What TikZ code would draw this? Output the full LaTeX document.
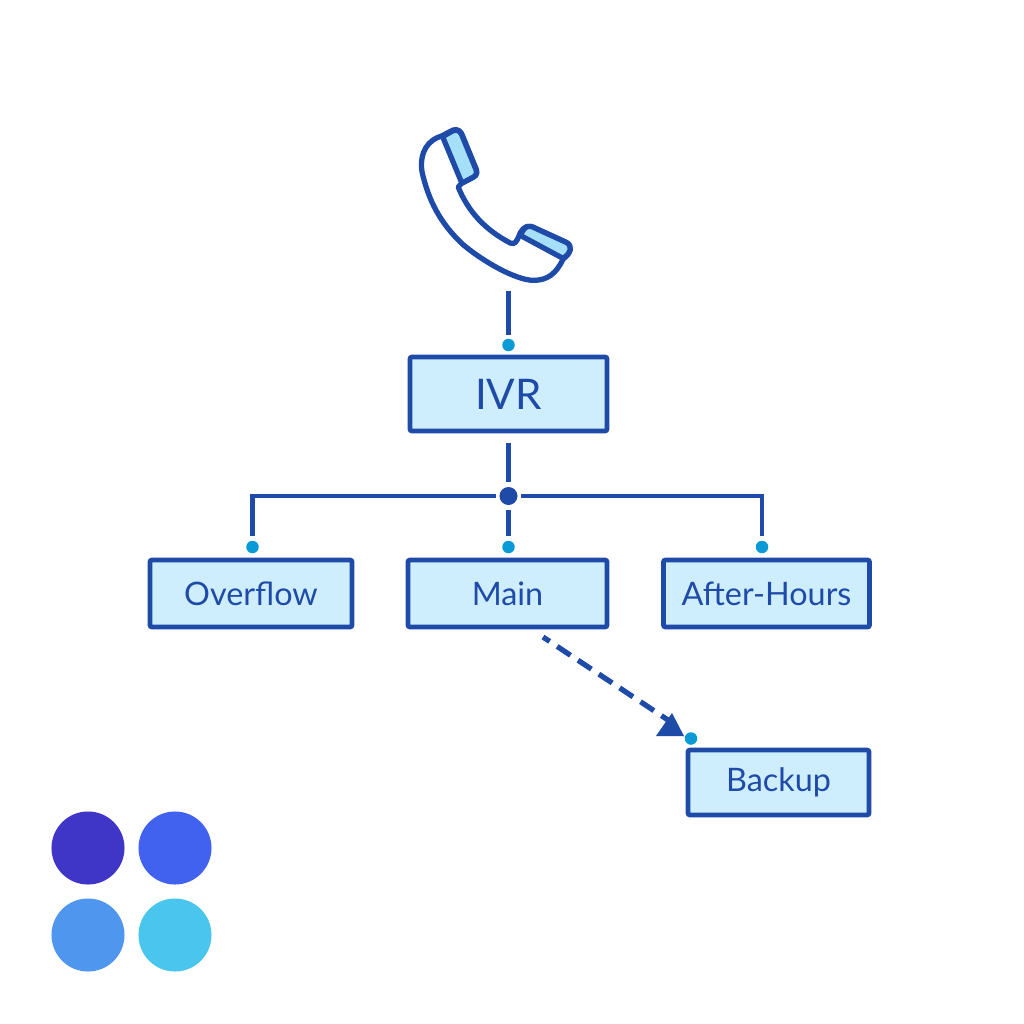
\documentclass[tikz,border=0pt]{standalone}
\usepackage{fontspec}
\setmainfont{Lato}
\usetikzlibrary{positioning}
\definecolor{linkblue}{HTML}{1F4BA8}
\definecolor{boxfill}{HTML}{CFEEFD}
\definecolor{portblue}{HTML}{0A9BD6}
\definecolor{capfill}{HTML}{A6DFF8}
\tikzset{
  menubox/.style={draw=linkblue,fill=boxfill,line width=1.35pt,rounded corners=.6pt,
    text=linkblue,inner sep=0pt,font=\fontsize{9.2}{12}\selectfont},
  port/.style={circle,fill=portblue,inner sep=0pt,minimum size=.125cm},
  hub/.style={circle,fill=linkblue,inner sep=0pt,minimum size=.18cm},
  swatch/.style={circle,inner sep=0pt,minimum size=.73cm},
  link/.style={draw=linkblue,line width=1.2pt},
  handset/.style={draw=linkblue,line width=1.5pt,line join=round},
}
\begin{document}
\begin{tikzpicture}[x=.01cm,y=-.01cm]
\useasboundingbox (0,0) rectangle (1024,1024);

\node[menubox,minimum width=1.97cm,minimum height=.74cm,font=\fontsize{12}{14}\selectfont] (ivr) at (508.5,394) {IVR};
\node[menubox,minimum width=2.02cm,minimum height=.67cm] (overflow) at (251,593.5) {Overflow};
\node[menubox,minimum width=1.99cm,minimum height=.67cm] (main) at (507.5,593.5) {Main};
\node[menubox,minimum width=2.06cm,minimum height=.67cm] (afterhours) at (766.5,593.5) {After-Hours};
\node[menubox,minimum width=1.81cm,minimum height=.65cm] (backup) at (778.5,782.5) {Backup};

\node[port] (ivrport) at (508.5,345) {};
\node[port] (overflowport) at (252.5,547) {};
\node[port] (mainport) at (508.5,547) {};
\node[port] (afterport) at (762,547) {};
\node[port] (backupport) at (691,738.5) {};
\node[hub] (hub) at (508.5,496) {};

\coordinate (phonetail) at (508.5,291);
\coordinate (dashstart) at (543,637);
\coordinate (dashend) at (668,720);

\draw[link] (phonetail) -- ([yshift=.03cm]ivrport.north);
\draw[link] ([yshift=-.1cm]ivr.south -| hub) -- ([yshift=.04cm]hub.north);
\draw[link] ([yshift=-.04cm]hub.south) -- ([yshift=.04cm]mainport.north);
\draw[link] ([xshift=-.03cm]hub.west) -| ([yshift=.04cm]overflowport.north);
\draw[link] ([xshift=.03cm]hub.east) -| ([yshift=.04cm]afterport.north);

\draw[link,line width=1.5pt,dash pattern=on .16cm off .09cm,dash phase=.08cm] (dashstart) -- (dashend);
\fill[linkblue] (656,736) -- (684,736) -- (672,713) -- cycle;

% handset
\begin{scope}[shift={(400,110)},x=.00333cm,y=-.00333cm]
\draw[handset,fill=white]
  (175,232) .. controls (205,305) and (255,360) .. (332,400)
  .. controls (345,405) and (350,395) .. (356,382)
  .. controls (362,362) and (375,345) .. (395,350)
  -- (500,398) .. controls (518,408) and (516,428) .. (490,448)
  .. controls (470,490) and (445,512) .. (400,512)
  .. controls (345,510) and (250,455) .. (190,405)
  .. controls (120,340) and (85,270) .. (66,185)
  .. controls (58,125) and (85,90) .. (125,78)
  -- (160,60) .. controls (175,56) and (183,65) .. (187,75)
  -- (230,180) .. controls (234,195) and (225,200) .. (215,205)
  -- (185,220) -- cycle;
\draw[handset,fill=capfill] (128,80) -- (160,62) .. controls (175,58) and (182,66) .. (186,76)
  -- (229,181) .. controls (233,195) and (224,200) .. (214,205) -- (186,220) -- cycle;
\draw[handset,fill=capfill] (362,377) .. controls (370,358) and (378,346) .. (395,350)
  -- (500,398) .. controls (518,408) and (516,428) .. (490,446) -- cycle;
\end{scope}

\foreach \x/\y/\col/\name in {88/848/3F35C6/swa,175/848/4062EE/swb,88/935/4F97EE/swc,175/935/4AC6EE/swd} {
  \definecolor{swatchcol}{HTML}{\col}
  \node[swatch,fill=swatchcol] (\name) at (\x,\y) {};
}
\end{tikzpicture}
\end{document}
